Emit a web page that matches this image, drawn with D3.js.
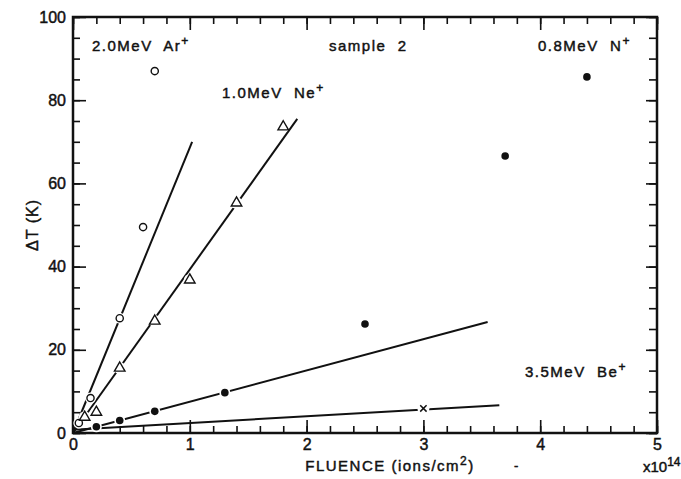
<!DOCTYPE html>
<html>
<head>
<meta charset="utf-8">
<script src="https://cdn.jsdelivr.net/npm/d3@7"></script>
<style>
  body { margin: 0; background: #fff; }
  text { font-family: "Liberation Sans", Arial, sans-serif; fill: #111; stroke: #111; stroke-width: 0.45px; }
</style>
</head>
<body>
<script>

// measured points, fluence in 1e14 ions/cm2, dT in K
var arFluence = [0.05, 0.15, 0.4, 0.6, 0.7];
var arDeltaT  = [2.4, 8.4, 27.6, 49.5, 87];

var neFluence = [0.1, 0.2, 0.4, 0.7, 1.0, 1.4, 1.8];
var neDeltaT  = [3.8, 5.0, 15.6, 26.9, 36.8, 55.3, 73.6];

var nFluence = [0.2, 0.4, 0.7, 1.3, 2.5, 3.7, 4.4];
var nDeltaT  = [1.5, 3.0, 5.2, 9.7, 26.2, 66.6, 85.6];

var beFluence = [3.0];
var beDeltaT  = [5.9];

// straight fit lines, [fluence, dT] end points
var arFit = [[0, 0], [1.02, 70]];
var neFit = [[0, 0], [1.92, 75.5]];
var nFit  = [[0, 0], [3.55, 26.7]];
var beFit = [[0, 0.8], [3.65, 6.7]];

var xTicks = [0, 1, 2, 3, 4, 5];
var yTicks = [0, 20, 40, 60, 80, 100];

var width = 681, height = 479;
var margin = {top: 17, right: 24, bottom: 46, left: 73};
var w = width - margin.left - margin.right;
var h = height - margin.top - margin.bottom;

var svg = d3.select('body')
            .append('svg')
            .attr('width', width)
            .attr('height', height);

var g = svg.append('g')
           .attr('transform', 'translate(' + margin.left + ',' + margin.top + ')');

var x = d3.scaleLinear().domain([0, 5]).range([0, w]);
var y = d3.scaleLinear().domain([0, 100]).range([h, 0]);

var xMinor = d3.range(0, 5.01, 0.2);
var yMinor = d3.range(0, 100.1, 5);

// ticks point inward on all four sides
function styleAxis(sel) {
    sel.select('.domain').remove();
    sel.selectAll('line').attr('stroke', '#111').attr('stroke-width', 1.6);
    sel.selectAll('text').style('font-size', '16px').attr('fill', '#111');
}

g.append('g').attr('transform', 'translate(0,' + h + ')')
    .call(d3.axisBottom(x).tickValues(xMinor).tickSize(-7).tickFormat(''))
    .call(styleAxis);
g.append('g').attr('transform', 'translate(0,' + h + ')')
    .call(d3.axisBottom(x).tickValues(xTicks).tickSize(-13).tickPadding(6).tickFormat(d3.format('d')))
    .call(styleAxis);

g.append('g')
    .call(d3.axisTop(x).tickValues(xMinor).tickSize(-7).tickFormat(''))
    .call(styleAxis);
g.append('g')
    .call(d3.axisTop(x).tickValues(xTicks).tickSize(-13).tickFormat(''))
    .call(styleAxis);

g.append('g')
    .call(d3.axisLeft(y).tickValues(yMinor).tickSize(-7).tickFormat(''))
    .call(styleAxis);
g.append('g')
    .call(d3.axisLeft(y).tickValues(yTicks).tickSize(-13).tickPadding(7).tickFormat(d3.format('d')))
    .call(styleAxis);

g.append('g').attr('transform', 'translate(' + w + ',0)')
    .call(d3.axisRight(y).tickValues(yMinor).tickSize(-8).tickFormat(''))
    .call(styleAxis);
g.append('g').attr('transform', 'translate(' + w + ',0)')
    .call(d3.axisRight(y).tickValues(yTicks).tickSize(-11).tickFormat(''))
    .call(styleAxis);

// frame
g.append('rect')
    .attr('width', w)
    .attr('height', h)
    .attr('fill', 'none')
    .attr('stroke', '#111')
    .attr('stroke-width', 2.5);

// fit lines
var line = d3.line()
    .x(function (d) { return x(d[0]); })
    .y(function (d) { return y(d[1]); });

[arFit, neFit, nFit, beFit].forEach(function (f) {
    g.append('path')
        .attr('d', line(f))
        .attr('fill', 'none')
        .attr('stroke', '#111')
        .attr('stroke-width', 2);
});

function pts(xs, ys) {
    return xs.map(function (d, i) { return [d, ys[i]]; });
}

// white gap round each marker, like the pen plot
function halo(data, r) {
    g.append('g').selectAll('circle')
        .data(data)
        .enter()
        .append('circle')
        .attr('cx', function (d) { return x(d[0]); })
        .attr('cy', function (d) { return y(d[1]); })
        .attr('r', r)
        .attr('fill', '#fff');
}

halo(pts(arFluence, arDeltaT), 5.5);
halo(pts(neFluence, neDeltaT), 6);
halo(pts(nFluence, nDeltaT), 5.5);
halo(pts(beFluence, beDeltaT), 6);

g.append('g').selectAll('circle')
    .data(pts(arFluence, arDeltaT))
    .enter()
    .append('circle')
    .attr('cx', function (d) { return x(d[0]); })
    .attr('cy', function (d) { return y(d[1]); })
    .attr('r', 3.6)
    .attr('fill', '#fff')
    .attr('stroke', '#111')
    .attr('stroke-width', 1.4);

g.append('g').selectAll('path')
    .data(pts(neFluence, neDeltaT))
    .enter()
    .append('path')
    .attr('d', d3.symbol().type(d3.symbolTriangle).size(48))
    .attr('transform', function (d) { return 'translate(' + x(d[0]) + ',' + y(d[1]) + ')'; })
    .attr('fill', '#fff')
    .attr('stroke', '#111')
    .attr('stroke-width', 1.4);

g.append('g').selectAll('circle')
    .data(pts(nFluence, nDeltaT))
    .enter()
    .append('circle')
    .attr('cx', function (d) { return x(d[0]); })
    .attr('cy', function (d) { return y(d[1]); })
    .attr('r', 3.8)
    .attr('fill', '#111');

g.append('g').selectAll('path')
    .data(pts(beFluence, beDeltaT))
    .enter()
    .append('path')
    .attr('d', d3.symbol().type(d3.symbolTimes).size(28))
    .attr('transform', function (d) { return 'translate(' + x(d[0]) + ',' + y(d[1]) + ')'; })
    .attr('fill', 'none')
    .attr('stroke', '#111')
    .attr('stroke-width', 1.5);

// labels inside the plot
function label(px, py, main, sup) {
    var t = svg.append('text')
        .attr('x', px)
        .attr('y', py)
        .style('font-size', '15px')
        .style('letter-spacing', '1.5px')
        .attr('xml:space', 'preserve')
        .text(main);
    if (sup) {
        t.append('tspan')
            .attr('dy', -6)
            .style('font-size', '12px')
            .text(sup);
    }
}

label(92, 51, '2.0MeV  Ar', '+');
label(329, 51, 'sample  2');
label(538, 51, '0.8MeV  N', '+');
label(222, 98, '1.0MeV  Ne', '+');
label(525, 377, '3.5MeV  Be', '+');

// axis titles
svg.append('text')
    .attr('transform', 'translate(38,225) rotate(-90)')
    .attr('text-anchor', 'middle')
    .style('font-size', '16px')
    .style('letter-spacing', '1px')
    .text('\u0394T (K)');

var xt = svg.append('text')
    .attr('x', 390)
    .attr('y', 471)
    .attr('text-anchor', 'middle')
    .style('font-size', '15px')
    .style('letter-spacing', '1.5px')
    .text('FLUENCE (ions/cm');
xt.append('tspan').attr('dy', -6).style('font-size', '12px').text('2');
xt.append('tspan').attr('dy', 6).text(')');

// stray pen mark beside the title
svg.append('text')
    .attr('x', 514)
    .attr('y', 470)
    .style('font-size', '13px')
    .text('-');

var xs = svg.append('text')
    .attr('x', 643)
    .attr('y', 472)
    .style('font-size', '15px')
    .text('x10');
xs.append('tspan').attr('dy', -6).style('font-size', '12px').text('14');

</script>
</body>
</html>
